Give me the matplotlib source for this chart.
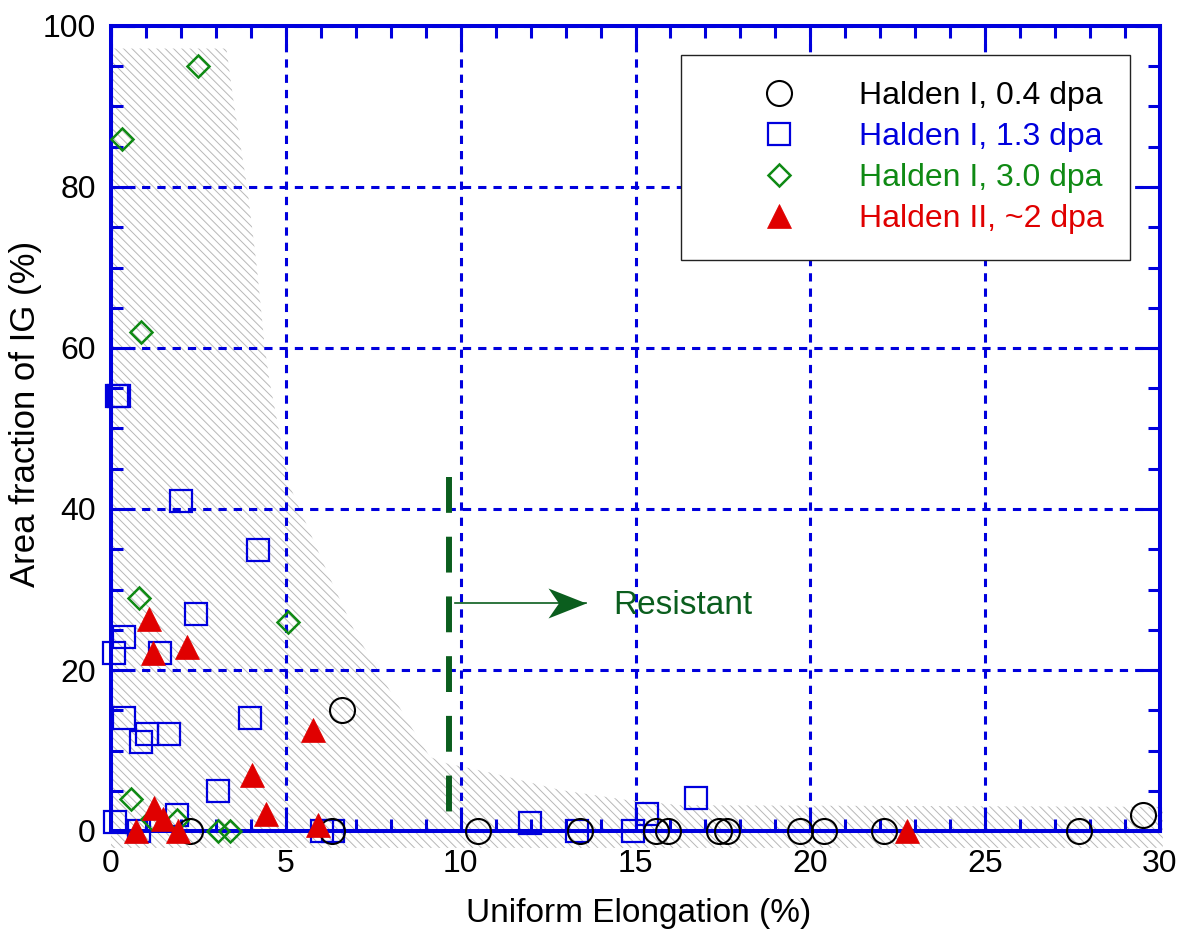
import numpy as np
import matplotlib
matplotlib.use("Agg")
import matplotlib.pyplot as plt
from matplotlib.ticker import MultipleLocator
from matplotlib.path import Path

plt.rcParams['font.family'] = ['Liberation Sans', 'DejaVu Sans']
plt.rcParams['hatch.linewidth'] = 0.7

# ---------------- data ----------------
# Halden I, 0.4 dpa (circles)
h04_x = [6.60, 2.27, 6.31, 10.50, 13.41, 15.60, 15.92, 17.40, 17.62, 19.70, 20.40, 22.10, 27.69, 29.50]
h04_y = [15.0, 0.0, 0.0, 0.0, 0.0, 0.0, 0.0, 0.0, 0.0, 0.0, 0.0, 0.0, 0.0, 2.0]

# Halden I, 1.3 dpa (squares)
h13_x = [0.17, 0.22, 2.00, 4.19, 2.42, 0.37, 0.09, 1.40, 0.38, 1.03, 0.86, 1.67, 3.97, 3.05,
         1.89, 0.12, 0.80, 6.03, 6.35, 11.99, 13.34, 14.94, 15.34, 16.72]
h13_y = [54.0, 54.0, 41.0, 34.9, 27.0, 24.1, 22.1, 22.1, 14.0, 12.1, 11.1, 12.0, 14.0, 5.0,
         2.0, 1.1, 0.0, 0.0, 0.0, 1.0, 0.0, 0.0, 2.1, 4.1]

# Halden I, 3.0 dpa (diamonds)
h30_x = [2.48, 0.32, 0.86, 0.81, 5.05, 0.56, 1.90, 1.17, 3.07, 3.40]
h30_y = [95.0, 86.0, 62.0, 29.0, 26.0, 4.0, 1.4, 1.5, 0.0, 0.0]

# Halden II, ~2 dpa (triangles)
h2_x = [1.10, 1.21, 2.17, 5.79, 4.03, 1.23, 4.42, 1.50, 0.72, 1.91, 5.93, 22.77]
h2_y = [26.3, 22.1, 22.9, 12.5, 7.0, 2.9, 2.1, 1.5, 0.0, 0.0, 0.7, 0.0]

series_labels = ['Halden I, 0.4 dpa', 'Halden I, 1.3 dpa', 'Halden I, 3.0 dpa', 'Halden II, ~2 dpa']

# hatched susceptibility band (outline)
band_x = [0.0, 3.30, 3.50, 3.90, 4.17, 4.40, 4.53, 5.10, 5.50, 6.20, 7.00, 7.70, 8.46, 9.12,
          9.60, 10.90, 12.84, 14.75, 16.30, 30.08, 30.08, 0.0]
band_y = [97.2, 97.2, 90.8, 79.8, 70.1, 60.0, 56.0, 43.0, 39.0, 32.0, 24.5, 19.5, 13.8, 9.2,
          8.4, 7.2, 5.1, 3.85, 3.2, 3.0, -2.1, -2.1]

# resistant threshold & annotation
thr_x = 9.67
thr_y = [44.0, 2.4]
arrow_tail = (9.84, 28.3)
arrow_tip = (13.58, 28.3)
resist_pos = (14.36, 28.0)

xticks = [0, 5, 10, 15, 20, 25, 30]
yticks = [0, 20, 40, 60, 80, 100]

# ---------------- style ----------------
BLUE = '#0000dd'
GREEN = '#0f8a14'
DKGREEN = '#0b5e1e'
RED = '#e00000'
BLACK = '#000000'

fig = plt.figure(figsize=(11.82, 9.34), dpi=100)
ax = fig.add_axes([111/1182, 1-831/934, 1049/1182, 805/934])

ax.set_xlim(0, 30)
ax.set_ylim(0, 100)

# hatched band
ax.fill(band_x, band_y, facecolor='none', edgecolor='#b8b8b8', linewidth=0,
        hatch='\\\\\\\\', zorder=0.3, clip_on=False)

# grid
ax.set_axisbelow(True)
ax.grid(True, which='major', color=BLUE, linewidth=2.2, linestyle=(0, (2.7, 2.3)))

# threshold line
ax.plot([thr_x, thr_x], thr_y, color=DKGREEN, linewidth=4.3,
        linestyle=(0, (6.0, 4.0)), solid_capstyle='butt', dash_capstyle='butt', zorder=3)

# arrow
ax.plot([arrow_tail[0], arrow_tip[0]], [arrow_tail[1], arrow_tip[1]], color=DKGREEN,
        linewidth=1.2, zorder=3)
stealth = Path([(0, 0), (-2, 0.79), (-1.45, 0), (-2, -0.79), (0, 0)],
               [Path.MOVETO, Path.LINETO, Path.LINETO, Path.LINETO, Path.CLOSEPOLY])
ax.plot([arrow_tip[0]], [arrow_tip[1]], marker=stealth, markersize=54.7,
        color=DKGREEN, markeredgewidth=0, linestyle='none', zorder=3.1)
ax.text(resist_pos[0], resist_pos[1], 'Resistant', color=DKGREEN, fontsize=24,
        ha='left', va='center', zorder=3)

# data
common = dict(linestyle='none', clip_on=False)
ax.plot(h04_x, h04_y, marker='o', markersize=18, markerfacecolor='none',
        markeredgecolor=BLACK, markeredgewidth=1.5, label=series_labels[0], zorder=6, **common)
ax.plot(h13_x, h13_y, marker='s', markersize=16.5, markerfacecolor='none',
        markeredgecolor=BLUE, markeredgewidth=1.6, label=series_labels[1], zorder=5, **common)
ax.plot(h30_x, h30_y, marker='D', markersize=11.7, markerfacecolor='none',
        markeredgecolor=GREEN, markeredgewidth=1.8, label=series_labels[2], zorder=5.5, **common)
ax.plot(h2_x, h2_y, marker='^', markersize=17, markerfacecolor=RED,
        markeredgecolor=RED, markeredgewidth=0.5, label=series_labels[3], zorder=7, **common)

# axes styling
for s in ax.spines.values():
    s.set_color(BLUE)
    s.set_linewidth(2.9)
    s.set_zorder(4)

ax.set_xticks(xticks)
ax.set_yticks(yticks)
ax.xaxis.set_minor_locator(MultipleLocator(1))
ax.yaxis.set_minor_locator(MultipleLocator(5))
ax.tick_params(which='both', direction='in', top=True, right=True, color=BLUE,
               width=2.2, labelsize=23)
ax.tick_params(which='major', length=17)
ax.tick_params(which='minor', length=8.5)
ax.tick_params(axis='x', which='major', pad=13)
ax.tick_params(axis='y', which='major', pad=11)

ax.set_xlabel('Uniform Elongation (%)', fontsize=24)
ax.set_ylabel('Area fraction of IG (%)', fontsize=25)
ax.xaxis.set_label_coords(0.503, -0.0832)
ax.yaxis.set_label_coords(-0.0658, 0.518)

leg = ax.legend(loc='upper right', bbox_to_anchor=(0.9714, 0.964), borderaxespad=0,
                fontsize=23, frameon=True, fancybox=False, framealpha=1,
                edgecolor='#222222', borderpad=0.82, handlelength=4.5,
                handletextpad=0.26, labelspacing=0.34, labelcolor='markeredgecolor')
leg.get_frame().set_linewidth(1.0)
leg.set_zorder(8)

fig.savefig('out.png', dpi=100)
